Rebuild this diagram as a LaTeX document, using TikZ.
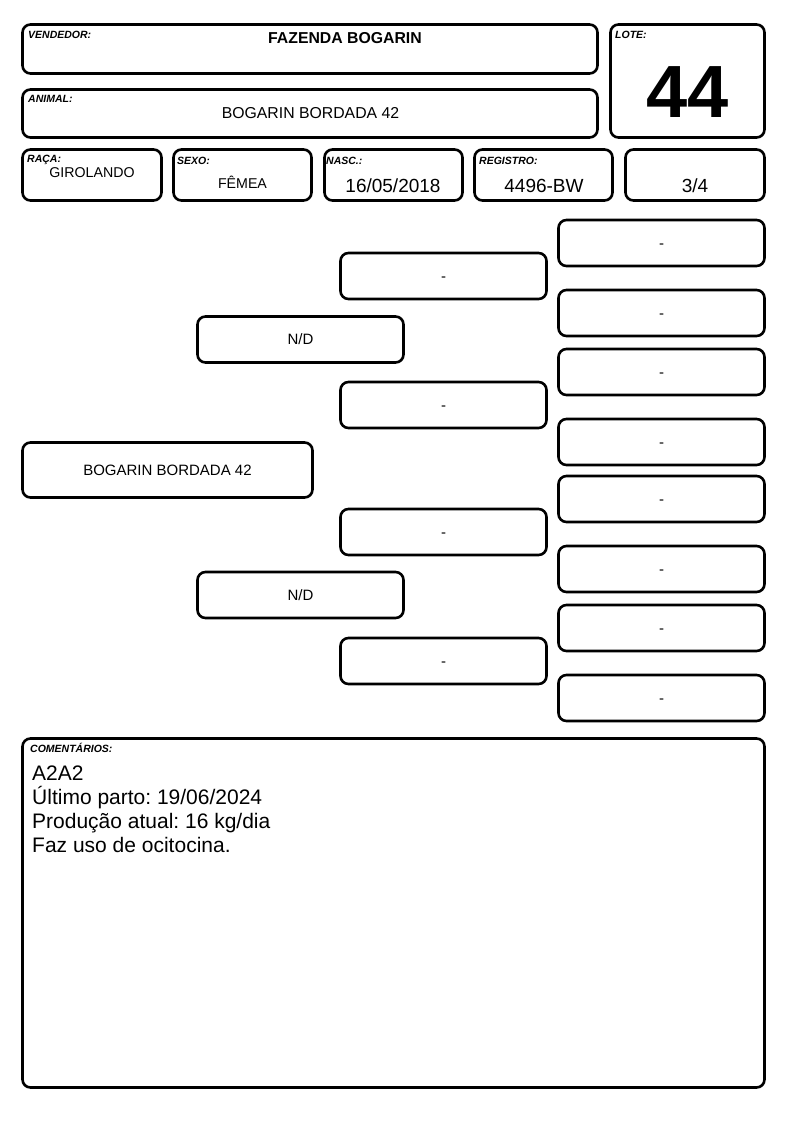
\documentclass[tikz,border=0pt]{standalone}
\usepackage{fontspec}
\setmainfont{Liberation Sans}
\frenchspacing
\tikzstyle{campo} = [rectangle, rounded corners=8pt, draw=black, line width=2.6pt, inner sep=0pt]
\tikzstyle{rotulo} = [anchor=base west, inner sep=0pt, font=\fontsize{10.5}{12}\selectfont\bfseries\itshape]
\tikzstyle{valor} = [anchor=base, inner sep=0pt, font=\fontsize{15.8}{18}\selectfont]
\tikzstyle{dado} = [anchor=base, inner sep=0pt, font=\fontsize{19}{22}\selectfont]
\tikzstyle{pedigree} = [campo, minimum width=206, minimum height=46, text centered, font=\fontsize{15}{18}\selectfont]
\tikzstyle{vazio} = [pedigree, text height=10.6pt, text depth=0pt]

\begin{document}
\begin{tikzpicture}[x=1pt, y=-1pt]
\useasboundingbox (0,0) rectangle (794,1123);

% cabecalho
\node (vendedor) at (310,49) [campo, minimum width=575, minimum height=49] {};
\node (animal) at (310,113.5) [campo, minimum width=575, minimum height=48] {};
\node (lote) at (687.5,81) [campo, minimum width=154, minimum height=113] {};
\node (raca) at (92,175) [campo, minimum width=139, minimum height=51] {};
\node (sexo) at (242.5,175) [campo, minimum width=138, minimum height=51] {};
\node (nasc) at (393.5,175) [campo, minimum width=138, minimum height=51] {};
\node (registro) at (543.5,175) [campo, minimum width=138, minimum height=51] {};
\node (fracao) at (695,175) [campo, minimum width=139, minimum height=51] {};

\node (vendedorR) at (28,39) [rotulo] {VENDEDOR:};
\node (vendedorV) at (345,43.3) [valor, font=\fontsize{15.8}{18}\selectfont\bfseries] {FAZENDA BOGARIN};
\node (animalR) at (28,102.7) [rotulo] {ANIMAL:};
\node (animalV) at (310.5,119) [valor] {BOGARIN BORDADA 42};
\node (loteR) at (615,39) [rotulo] {LOTE:};
\node (loteV) at (687.5,118) [anchor=base, inner sep=0pt, font=\fontsize{74}{80}\selectfont\bfseries] {44};
\node (racaR) at (27,162.3) [rotulo] {RAÇA:};
\node (racaV) at (92,178) [valor, font=\fontsize{14.2}{17}\selectfont] {GIROLANDO};
\node (sexoR) at (177,165) [rotulo] {SEXO:};
\node (sexoV) at (242.5,189) [valor, font=\fontsize{14.2}{17}\selectfont] {FÊMEA};
\node (nascR) at (326,165) [rotulo] {NASC.:};
\node (nascV) at (393,193) [dado] {16/05/2018};
\node (registroR) at (479,165) [rotulo] {REGISTRO:};
\node (registroV) at (544,193) [dado] {4496-BW};
\node (fracaoV) at (695,193) [dado] {3/4};

% pedigree
\node (filho) at (167.5,470) [pedigree, minimum width=290, minimum height=55] {BOGARIN BORDADA 42};

\node (pai) at (300.5,339.5) [pedigree] {N/D};
\node (mae) at (300.5,595) [pedigree] {N/D};

\node (pp) at (443.5,276) [vazio] {-};
\node (pm) at (443.5,405) [vazio] {-};
\node (mp) at (443.5,532) [vazio] {-};
\node (mm) at (443.5,661) [vazio] {-};

\node (ppp) at (661.5,243) [vazio] {-};
\node (ppm) at (661.5,313) [vazio] {-};
\node (pmp) at (661.5,372) [vazio] {-};
\node (pmm) at (661.5,442) [vazio] {-};
\node (mpp) at (661.5,499) [vazio] {-};
\node (mpm) at (661.5,569) [vazio] {-};
\node (mmp) at (661.5,628) [vazio] {-};
\node (mmm) at (661.5,698) [vazio] {-};

% comentarios
\node (comentarios) at (393.5,913) [campo, minimum width=742, minimum height=349] {};
\node (comentariosR) at (30,752.7) [rotulo] {COMENTÁRIOS:};
\node (comentariosV) at (32,766) [anchor=north west, inner sep=0pt, align=left, font=\fontsize{21}{24}\selectfont] {A2A2\\Último parto: 19/06/2024\\Produção atual: 16 kg/dia\\Faz uso de ocitocina.};

\end{tikzpicture}
\end{document}
